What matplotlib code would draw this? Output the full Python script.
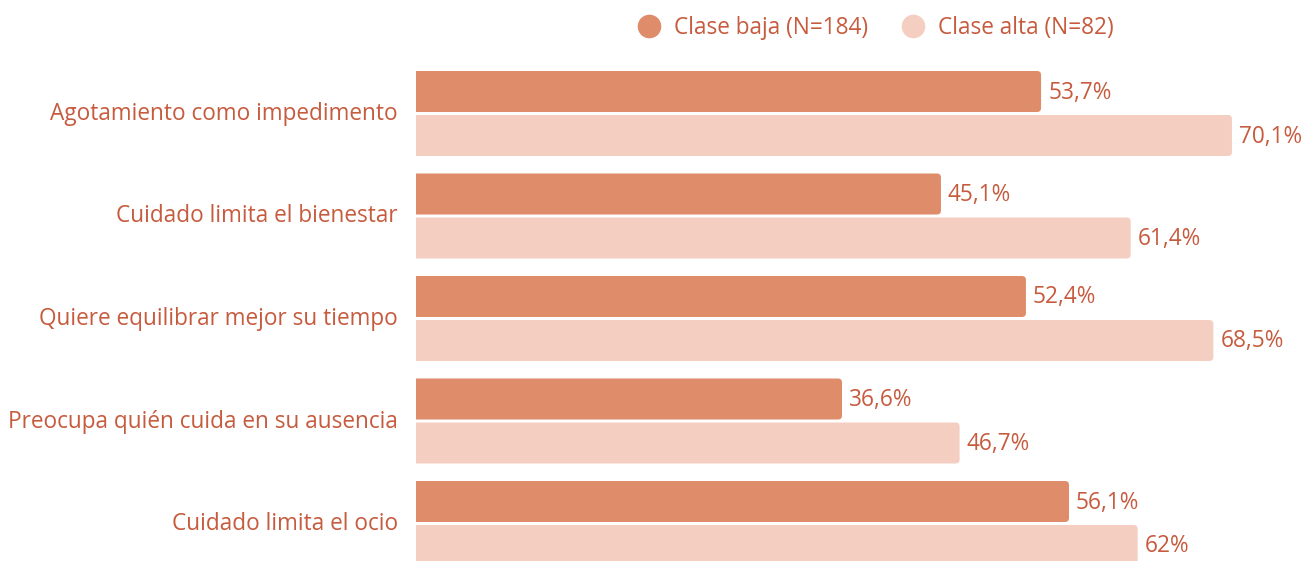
import numpy as np
import matplotlib.pyplot as plt
from matplotlib.patches import FancyBboxPatch
from matplotlib.lines import Line2D

plt.rcParams['font.family'] = ['Open Sans', 'DejaVu Sans']

categorias = ['Agotamiento como impedimento', 'Cuidado limita el bienestar',
              'Quiere equilibrar mejor su tiempo', 'Preocupa quién cuida en su ausencia',
              'Cuidado limita el ocio']
clase_baja = [53.7, 45.1, 52.4, 36.6, 56.1]
clase_alta = [70.1, 61.4, 68.5, 46.7, 62.0]
series = ['Clase baja (N=184)', 'Clase alta (N=82)']

col_baja = '#DF8C6B'
col_alta = '#F5CEC2'
col_texto = '#C65B3E'

W, H = 1314, 561
fig = plt.figure(figsize=(W / 100, H / 100), dpi=100)
x0 = 416
px_x = 11.64     # pixeles por punto porcentual
px_y = 102.5     # pixeles por grupo
ax = fig.add_axes([x0 / W, 0, (W - x0) / W, 1])
ax.set_xlim(0, (W - x0) / px_x)
ax.set_ylim((H - 113.5) / px_y, -113.5 / px_y)

y = np.arange(len(categorias))
h = 41 / px_y
off = 22 / px_y

def barras(valores, pos, color):
    bars = ax.barh(pos, valores, height=h, color=color)
    r = 4 / px_x
    aspect = (1 / px_y) / (1 / px_x)
    for b in bars:
        b.set_visible(False)
        p = FancyBboxPatch((b.get_x() - r, b.get_y()), b.get_width() + r, b.get_height(),
                           boxstyle=f'round,pad=0,rounding_size={r}',
                           mutation_aspect=aspect, facecolor=color, edgecolor='none')
        ax.add_patch(p)
    for v, yy in zip(valores, pos):
        txt = f'{v:g}'.replace('.', ',') + '%'
        ax.text(v + 7 / px_x, yy + 1 / px_y, txt, va='center', ha='left', fontsize=16.3, color=col_texto)

barras(clase_baja, y - off, col_baja)
barras(clase_alta, y + off, col_alta)

ax.set_yticks(y - 2.5 / px_y)
ax.set_yticklabels(categorias, fontsize=16.3, color=col_texto)
ax.tick_params(axis='y', length=0, pad=13)
ax.set_xticks([])
for s in ax.spines.values():
    s.set_visible(False)

handles = [Line2D([], [], marker='o', ls='none', markersize=16, color=c) for c in (col_baja, col_alta)]
leg = fig.legend(handles, series, loc='center', bbox_to_anchor=(870 / W, 1 - 28 / H), ncol=2,
                 frameon=False, fontsize=16.3, handletextpad=0.1, columnspacing=1.0)
for t in leg.get_texts():
    t.set_color(col_texto)

fig.savefig('out.png', dpi=100)
